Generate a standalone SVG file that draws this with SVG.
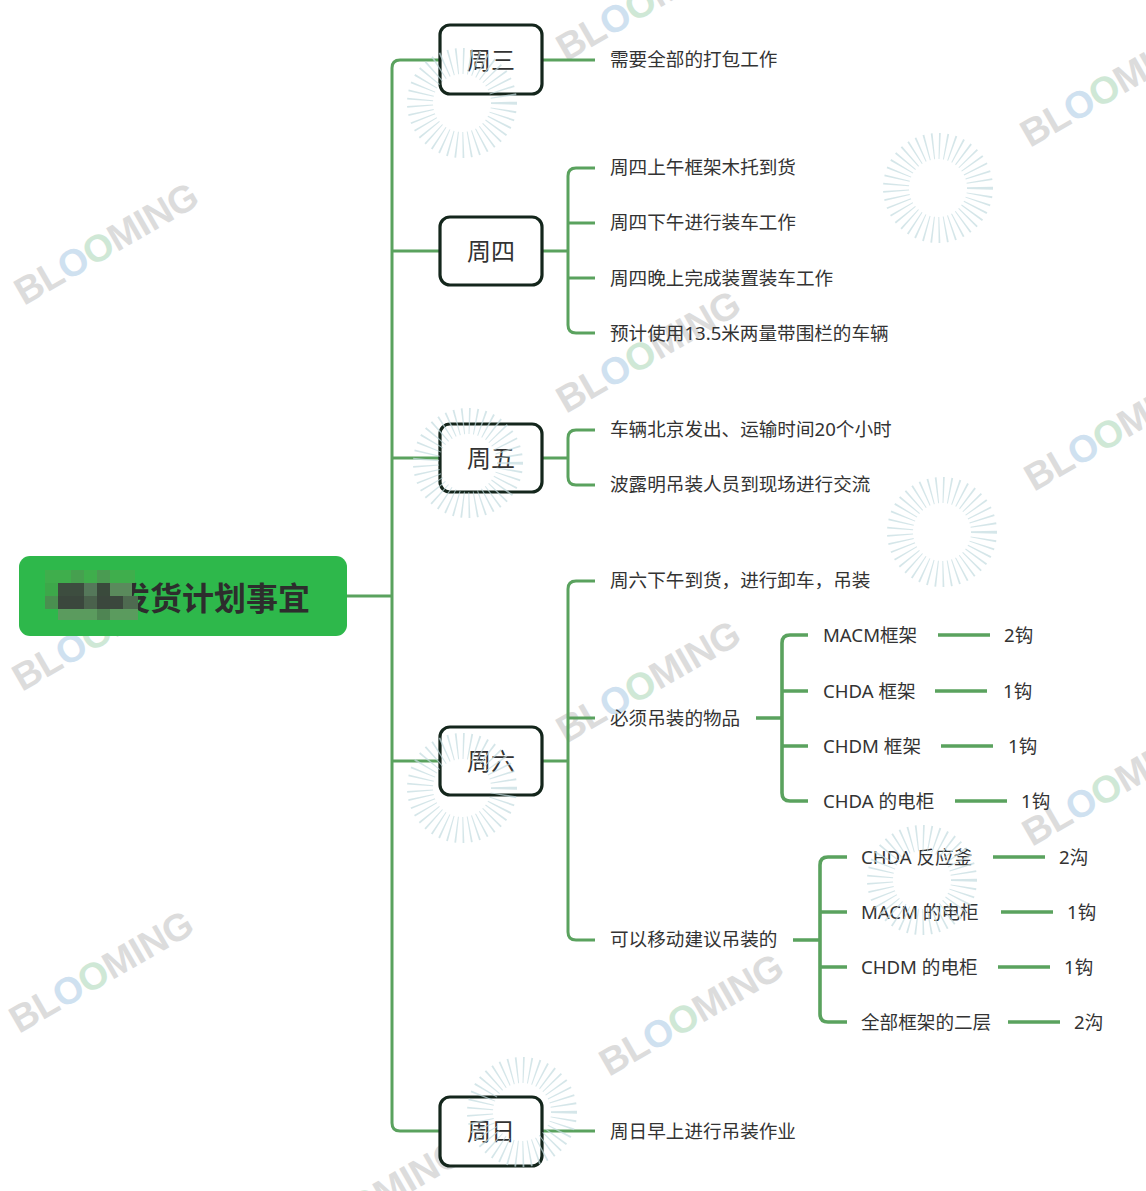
<svg xmlns="http://www.w3.org/2000/svg" width="1146" height="1191" viewBox="0 0 1146 1191">
<style>
.wm{font-family:"Liberation Sans",Arial,sans-serif;font-weight:bold;font-size:38px;fill:#dcdcdc}
.wm .b{fill:#cfe1f0}.wm .g{fill:#cfe8d6}
.ln{fill:none;stroke:#5aa25e;stroke-width:3;stroke-linecap:butt}
.ln2{fill:none;stroke:#5aa25e;stroke-width:3.6}
.n1 rect{fill:#fff;stroke:#14261c;stroke-width:3.2}
.n1 text{font-family:"Noto Sans CJK SC",sans-serif;font-size:24px;fill:#333;text-anchor:middle;dominant-baseline:central}
.t{font-family:"Noto Sans","Noto Sans CJK SC",sans-serif;font-size:18.6px;fill:#333;dominant-baseline:central}
.sb{fill:none;stroke:#c3dce0;stroke-width:26;stroke-dasharray:1.4 5;opacity:.7}
</style>
<rect width="1146" height="1191" fill="#fff"/>
<g id="watermarks">
<text class="wm" transform="translate(566,62) rotate(-30)" textLength="205">BL<tspan class="b">O</tspan><tspan class="g">O</tspan>MING</text>
<text class="wm" transform="translate(1030,148) rotate(-30)" textLength="205">BL<tspan class="b">O</tspan><tspan class="g">O</tspan>MING</text>
<text class="wm" transform="translate(24,306) rotate(-30)" textLength="205">BL<tspan class="b">O</tspan><tspan class="g">O</tspan>MING</text>
<text class="wm" transform="translate(566,414) rotate(-30)" textLength="205">BL<tspan class="b">O</tspan><tspan class="g">O</tspan>MING</text>
<text class="wm" transform="translate(1034,492) rotate(-30)" textLength="205">BL<tspan class="b">O</tspan><tspan class="g">O</tspan>MING</text>
<text class="wm" transform="translate(22,692) rotate(-30)" textLength="205">BL<tspan class="b">O</tspan><tspan class="g">O</tspan>MING</text>
<text class="wm" transform="translate(566,744) rotate(-30)" textLength="205">BL<tspan class="b">O</tspan><tspan class="g">O</tspan>MING</text>
<text class="wm" transform="translate(1032,847) rotate(-30)" textLength="205">BL<tspan class="b">O</tspan><tspan class="g">O</tspan>MING</text>
<text class="wm" transform="translate(19,1034) rotate(-30)" textLength="205">BL<tspan class="b">O</tspan><tspan class="g">O</tspan>MING</text>
<text class="wm" transform="translate(609,1077) rotate(-30)" textLength="205">BL<tspan class="b">O</tspan><tspan class="g">O</tspan>MING</text>
<text class="wm" transform="translate(290,1262) rotate(-30)" textLength="205">BL<tspan class="b">O</tspan><tspan class="g">O</tspan>MING</text>
</g>
<g id="connectors">
<path class="ln" d="M347 596H392"/>
<path class="ln" d="M440 60H400Q392 60 392 68V1123Q392 1131 400 1131H440"/>
<path class="ln" d="M392 251H440M392 458H440M392 761H440"/>
<path class="ln" d="M542 60H595M542 1131H595"/>
<path class="ln" d="M542 251H568M595 168H576Q568 168 568 176V325Q568 333 576 333H595M568 223H595M568 278H595"/>
<path class="ln" d="M542 458H568M595 430H576Q568 430 568 438V477Q568 485 576 485H595"/>
<path class="ln" d="M542 761H568M595 581H576Q568 581 568 589V932Q568 940 576 940H595M568 718H595"/>
<path class="ln2" d="M756 718H782M808 635H790Q782 635 782 643V793Q782 801 790 801H808M782 691H808M782 746H808"/>
<path class="ln2" d="M938 635H990M935 691H987M941 746H993M955 801H1007"/>
<path class="ln2" d="M793 940H820M847 857H828Q820 857 820 865V1014Q820 1022 828 1022H847M820 912H847M820 967H847"/>
<path class="ln2" d="M993 857H1045M1001 912H1053M998 967H1050M1008 1022H1060"/>
</g>
<g id="root">
<rect x="19" y="556" width="328" height="80" rx="11" fill="#2eb84b"/>
<text x="118" y="596" font-family="Noto Sans CJK SC,sans-serif" font-size="32" font-weight="bold" fill="#2d2d2d" dominant-baseline="central">发货计划事宜</text>
<g id="mosaic">
<rect x="45" y="570" width="90" height="13" fill="#3fae4c"/>
<rect x="71" y="570" width="13" height="13" fill="#46a04f"/>
<rect x="97" y="570" width="13" height="13" fill="#4a9b52"/>
<rect x="45" y="583" width="13" height="13" fill="#3da84a"/>
<rect x="58" y="583" width="26" height="13" fill="#3d4d3f"/>
<rect x="84" y="583" width="13" height="13" fill="#55785a"/>
<rect x="97" y="583" width="13" height="13" fill="#3a4a3c"/>
<rect x="110" y="583" width="22" height="13" fill="#5a8a5c"/>
<rect x="45" y="596" width="13" height="13" fill="#4a8f50"/>
<rect x="58" y="596" width="80" height="13" fill="#3b473d"/>
<rect x="84" y="596" width="13" height="13" fill="#4a614c"/>
<rect x="123" y="596" width="15" height="13" fill="#4e6a50"/>
<rect x="58" y="609" width="80" height="11" fill="#5b9b5e"/>
<rect x="97" y="609" width="13" height="11" fill="#4f8553"/>
</g>
</g>
<g id="n-wed" class="n1"><rect x="440" y="25" width="102" height="69" rx="10"/><text x="491" y="58">周三</text></g>
<g id="n-thu" class="n1"><rect x="440" y="217" width="102" height="68" rx="10"/><text x="491" y="249">周四</text></g>
<g id="n-fri" class="n1"><rect x="440" y="424" width="102" height="68" rx="10"/><text x="491" y="456">周五</text></g>
<g id="n-sat" class="n1"><rect x="440" y="727" width="102" height="68" rx="10"/><text x="491" y="759">周六</text></g>
<g id="n-sun" class="n1"><rect x="440" y="1097" width="102" height="69" rx="10"/><text x="491" y="1129">周日</text></g>
<g id="leaves">
<text class="t" x="610" y="58">需要全部的打包工作</text>
<text class="t" x="610" y="166">周四上午框架木托到货</text>
<text class="t" x="610" y="221">周四下午进行装车工作</text>
<text class="t" x="610" y="277">周四晚上完成装置装车工作</text>
<text class="t" x="610" y="332">预计使用13.5米两量带围栏的车辆</text>
<text class="t" x="610" y="428">车辆北京发出、运输时间20个小时</text>
<text class="t" x="610" y="483">波露明吊装人员到现场进行交流</text>
<text class="t" x="610" y="579">周六下午到货，进行卸车，吊装</text>
<text class="t" x="610" y="717">必须吊装的物品</text>
<text class="t" x="610" y="938">可以移动建议吊装的</text>
<text class="t" x="823" y="634">MACM框架</text>
<text class="t" x="823" y="690">CHDA 框架</text>
<text class="t" x="823" y="745">CHDM 框架</text>
<text class="t" x="823" y="800">CHDA 的电柜</text>
<text class="t" x="1004" y="634">2钩</text>
<text class="t" x="1003" y="690">1钩</text>
<text class="t" x="1008" y="745">1钩</text>
<text class="t" x="1021" y="800">1钩</text>
<text class="t" x="861" y="856">CHDA 反应釜</text>
<text class="t" x="861" y="911">MACM 的电柜</text>
<text class="t" x="861" y="966">CHDM 的电柜</text>
<text class="t" x="861" y="1021">全部框架的二层</text>
<text class="t" x="1059" y="856">2沟</text>
<text class="t" x="1067" y="911">1钩</text>
<text class="t" x="1064" y="966">1钩</text>
<text class="t" x="1074" y="1021">2沟</text>
<text class="t" x="610" y="1130">周日早上进行吊装作业</text>
</g>
<g id="sunbursts">
<circle class="sb" cx="462" cy="103" r="42"/>
<circle class="sb" cx="938" cy="188" r="42"/>
<circle class="sb" cx="468" cy="463" r="42"/>
<circle class="sb" cx="942" cy="532" r="42"/>
<circle class="sb" cx="462" cy="788" r="42"/>
<circle class="sb" cx="922" cy="880" r="42"/>
<circle class="sb" cx="522" cy="1112" r="42"/>
</g>
</svg>
